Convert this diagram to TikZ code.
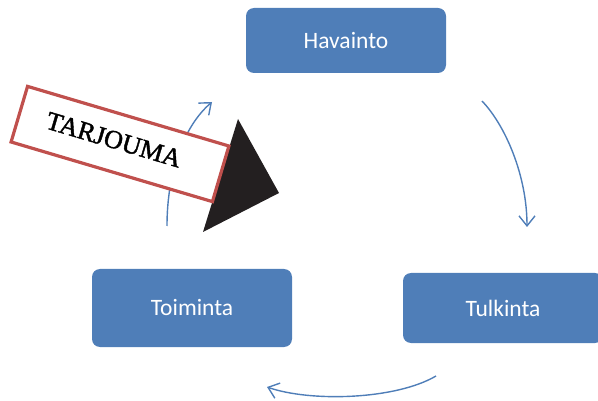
\documentclass[tikz,border=0pt]{standalone}
\usepackage{fontspec}
\setmainfont{Liberation Serif}
\newfontfamily\boxfont{Carlito}
\newfontfamily\stampfont[FakeBold=1.6]{Liberation Serif}
\usetikzlibrary{arrows.meta}
\definecolor{stepblue}{RGB}{79,126,184}
\definecolor{stampred}{RGB}{192,80,77}
\definecolor{inkblack}{RGB}{35,31,32}
\tikzset{
  cyclebox/.style={draw=none, fill=stepblue, rounded corners=8pt, text=white,
    font=\boxfont\fontsize{23.5}{28}\selectfont, inner sep=0pt},
  flow/.style={draw=stepblue, line width=1.4pt,
    -{Straight Barb[length=10pt,width=16pt,line width=1.4pt]}},
  stamp/.style={draw=stampred, line width=3.2pt, fill=white, inner sep=0pt,
    minimum width=210pt, minimum height=58pt, rotate=-16.5,
    font=\stampfont\fontsize{26}{30}\selectfont}
}
\begin{document}
\begin{tikzpicture}[x=1pt,y=-1pt]
\useasboundingbox (0,0) rectangle (598,401);
% the three stages of the cycle
\node[cyclebox, minimum width=200pt, minimum height=65pt] (hav) at (346,40.5) {Havainto};
\node[cyclebox, minimum width=200pt, minimum height=70pt] (tul) at (503,308) {Tulkinta};
\node[cyclebox, minimum width=200pt, minimum height=78pt] (toi) at (192,308) {Toiminta};
% arrow end points
\coordinate (a1s) at (482,101);
\coordinate (a1e) at (527,227);
\coordinate (a2s) at (436,376);
\coordinate (a2e) at (267,387);
\coordinate (a3s) at (167,226);
\coordinate (a3e) at (212,102);
\draw[flow] (a1s) .. controls (505,125) and (527,175) .. (a1e);
\draw[flow] (a2s) .. controls (395,400) and (310,402) .. (a2e);
\draw[flow] (a3s) .. controls (167,170) and (185,125) .. (a3e);
% black pointer behind the label
\coordinate (t1) at (238,119);
\coordinate (t2) at (279,193);
\coordinate (t3) at (203,232);
\fill[inkblack] (t1) -- (t2) -- (t3) -- cycle;
% rotated label, text set a little up and to the left
\node[stamp] (tarj) at (120,144) {\raisebox{5pt}{TARJOUMA}\hspace*{14pt}};
\end{tikzpicture}
\end{document}
